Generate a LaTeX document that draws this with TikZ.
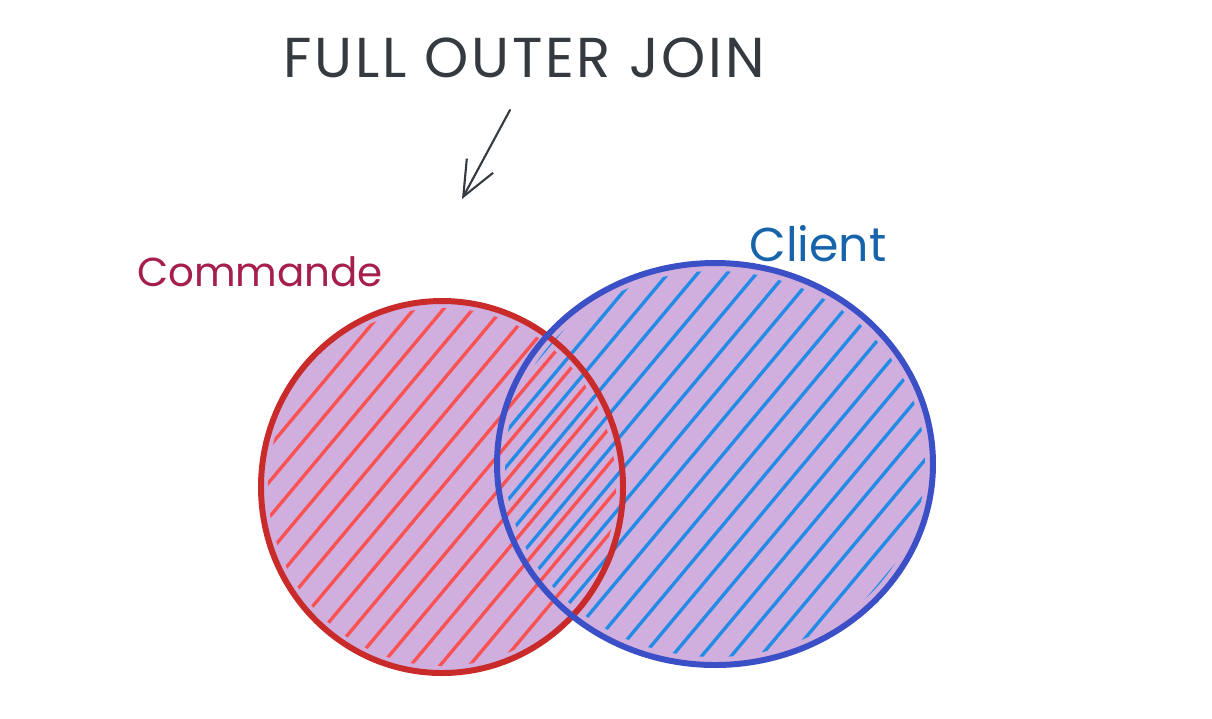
\documentclass[tikz,border=0pt]{standalone}
\usepackage{fontspec}
\setmainfont{Poppins}
\newfontfamily\titlefont[LetterSpace=5]{Poppins}
\usepackage{xcolor}
\usetikzlibrary{arrows.meta}

\definecolor{titlegray}{HTML}{343A40}
\definecolor{cmdred}{HTML}{A61E4D}
\definecolor{clientblue}{HTML}{1864AB}
\definecolor{redrim}{HTML}{C92A2A}
\definecolor{redhatch}{HTML}{FA5252}
\definecolor{bluerim}{HTML}{3B4FC6}
\definecolor{bluehatch}{HTML}{228BE6}
\definecolor{lavender}{HTML}{D0AEDD}

\begin{document}
\begin{tikzpicture}[
		x=0.02cm,
		y=-0.02cm,
		>={Straight Barb[length=20pt,width=17pt]},
		line cap=round,
		line join=round,
		tag/.style={inner sep=0pt},
		hatch/.style={line width=1.9pt},
		rim/.style={line width=3.4pt}
		]
		
		\useasboundingbox (0,0) rectangle (1212,718);
		
		% 기본 수치
		\pgfmathsetmacro{\redx}{442}
		\pgfmathsetmacro{\redy}{487}
		\pgfmathsetmacro{\bluex}{715}
		\pgfmathsetmacro{\bluey}{464}
		\pgfmathsetmacro{\gap}{29.5}
		
		% 제목과 화살표
		\node[tag,text=titlegray,font=\titlefont\fontsize{32}{36}\selectfont] (title) at (524,58) {FULL OUTER JOIN};
		\coordinate (arrowtop) at (510,110);
		\coordinate (arrowtip) at (462,199);
		\draw[->,titlegray,line width=1.2pt] (arrowtop) -- (arrowtip);
		
		% 이름표
		\node[tag,text=cmdred,font=\fontsize{23}{28}\selectfont] (commande) at (260,272) {Commande};
		\node[tag,text=clientblue,font=\fontsize{27}{32}\selectfont] (client) at (818,244) {Client};
		
		% 바탕색
		\fill[lavender] (\redx,\redy) ellipse [x radius=181,y radius=186];
		\fill[lavender] (\bluex,\bluey) ellipse [x radius=218,y radius=201];
		
		% 빨간 빗금
		\begin{scope}
			\clip (\redx,\redy) ellipse [x radius=174,y radius=179];
			\foreach \k in {-11,...,11}
			\draw[hatch,redhatch] (\redx+\k*\gap-180,\redy+215) -- (\redx+\k*\gap+180,\redy-215);
		\end{scope}
		
		% 파란 빗금
		\begin{scope}
			\clip (\bluex,\bluey) ellipse [x radius=210,y radius=193];
			\foreach \k in {-13,...,13}
			\draw[hatch,bluehatch] (\bluex+\k*\gap-180,\bluey+215) -- (\bluex+\k*\gap+180,\bluey-215);
		\end{scope}
		
		% 테두리
		\draw[rim,redrim] (\redx,\redy) ellipse [x radius=181,y radius=186];
		\draw[rim,bluerim] (\bluex,\bluey) ellipse [x radius=218,y radius=201];
		
	\end{tikzpicture}
\end{document}
